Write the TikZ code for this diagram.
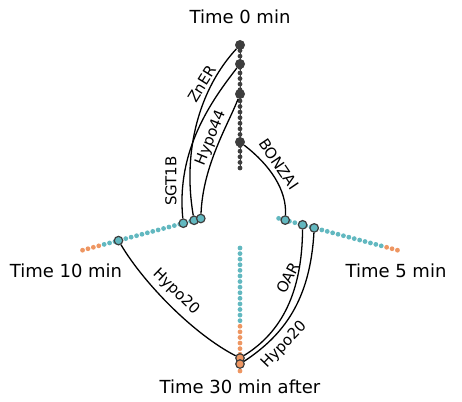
\documentclass[tikz,border=0pt]{standalone}
\usepackage{fontspec}
\setmainfont{DejaVu Sans}
\definecolor{axdark}{RGB}{62,62,62}
\definecolor{teal}{RGB}{98,184,192}
\definecolor{orng}{RGB}{238,150,98}
\begin{document}
\begin{tikzpicture}[x=1pt,y=-1pt,
  sdot/.style={circle,inner sep=0pt,minimum size=4.8pt},
  bigdark/.style={circle,inner sep=0pt,minimum size=10pt,fill=axdark},
  bigteal/.style={circle,inner sep=0pt,minimum size=8.5pt,fill=teal,draw=axdark,line width=1.2pt},
  bigorng/.style={circle,inner sep=0pt,minimum size=8.5pt,fill=orng,draw=axdark,line width=1.2pt},
  edge/.style={draw=black,line width=1.3pt},
  lab/.style={font=\fontsize{15}{17}\selectfont,inner sep=0pt},
  title/.style={font=\fontsize{18}{21}\selectfont,inner sep=0pt,anchor=base}]
\useasboundingbox (0,0) rectangle (462,401);
% axes (chains of dots)
\draw[axdark,line width=1pt] (240,168) -- (240,45);
\foreach \k in {0,...,22}{
  \pgfmathsetmacro{\r}{40+\k*123/22}
  \pgfmathsetmacro{\cx}{0.9659*\r}
  \pgfmathsetmacro{\sy}{0.2588*\r}
  \node[sdot,fill=axdark] at (240,208-\r) {};
  \ifnum\k>13 \node[sdot,fill=orng] at (240,208+\r) {};
  \else \node[sdot,fill=teal] at (240,208+\r) {};\fi
  \ifnum\k>18 \node[sdot,fill=orng] at (240-\cx,208+\sy) {};
  \else \node[sdot,fill=teal] at (240-\cx,208+\sy) {};\fi
  \ifnum\k>19 \node[sdot,fill=orng] at (240+\cx,208+\sy) {};
  \else \node[sdot,fill=teal] at (240+\cx,208+\sy) {};\fi
}
% big nodes
\node[bigdark] (t1) at (240,45) {};
\node[bigdark] (t2) at (240,64) {};
\node[bigdark] (t3) at (240,94) {};
\node[bigdark] (t4) at (240,142) {};
\node[bigteal] (l1) at (118.5,240.6) {};
\node[bigteal] (l2) at (183.3,223.2) {};
\node[bigteal] (l3) at (194.1,220.3) {};
\node[bigteal] (l4) at (200.8,218.5) {};
\node[bigteal] (r1) at (285.2,220.1) {};
\node[bigteal] (r2) at (302.6,224.8) {};
\node[bigteal] (r3) at (314.2,227.9) {};
\node[bigorng] (b1) at (240,358) {};
\node[bigorng] (b2) at (240,364) {};
% edges
\path[edge] (t1) .. controls (200,88) and (182,150) .. (l3);
\path[edge] (t2) .. controls (212,100) and (176,150) .. (l2);
\path[edge] (t3) .. controls (228,125) and (203,165) .. (l4);
\path[edge] (t4) .. controls (270,165) and (287,190) .. (r1);
\path[edge] (r2) .. controls (302,292) and (282,332) .. (b1);
\path[edge] (r3) .. controls (310,300) and (284,335) .. (b2);
\path[edge] (l1) .. controls (145,285) and (195,335) .. (b1);
% edge labels
\node[lab,rotate=58] (lzner) at (202,84) {ZnER};
\node[lab,rotate=90] (lsgt) at (171,181) {SGT1B};
\node[lab,rotate=68] (lh44) at (211,138) {Hypo44};
\node[lab,rotate=-56] (lbon) at (279,164) {BONZAI};
\node[lab,rotate=62] (loar) at (288,278) {OAR};
\node[lab,rotate=46] (lh20r) at (284,345) {Hypo20};
\node[lab,rotate=-44] (lh20l) at (176,292) {Hypo20};
% titles
\node[title] (T0) at (240,24) {Time 0 min};
\node[title] (T10) at (66,277) {Time 10 min};
\node[title] (T5) at (396,277) {Time 5 min};
\node[title] (T30) at (240,393) {Time 30 min after};
\end{tikzpicture}
\end{document}
